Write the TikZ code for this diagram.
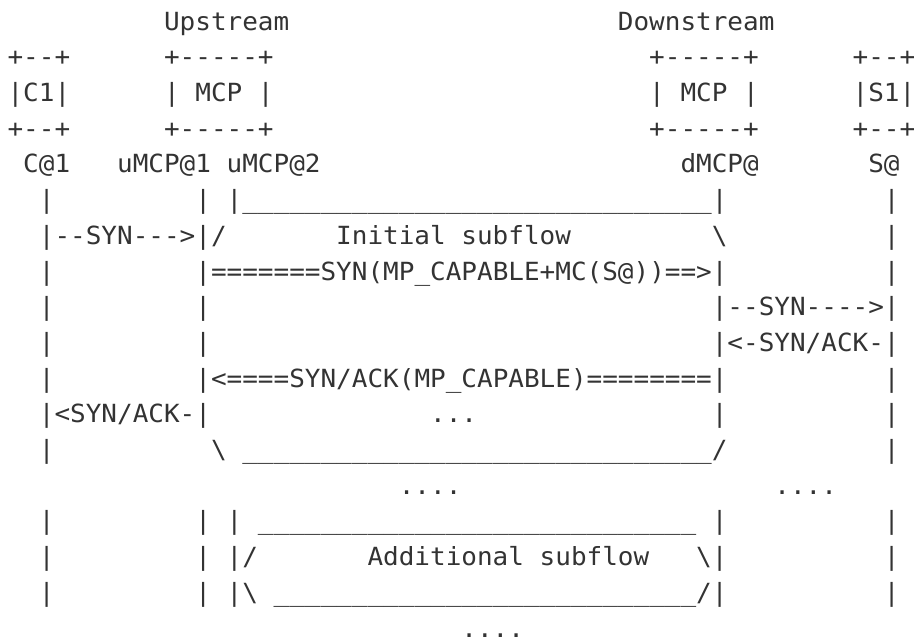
\documentclass[tikz,border=0pt]{standalone}
\usepackage{fontspec}
\setmonofont[FakeStretch=1.04]{DejaVu Sans Mono}

\definecolor{ink}{gray}{0.2}
\tikzset{
  asc/.style={anchor=base west, inner sep=0pt, outer sep=0pt, text=ink,
    font=\ttfamily\fontsize{25}{30}\selectfont},
}
% a run of underscores
\newcommand\unders[1]{\foreach \n in {1,...,#1}{\_}}

\begin{document}
\begin{tikzpicture}[x=15.65pt,y=-35.7pt]
\useasboundingbox (0,0) rectangle (58.403,17.899);
\begin{scope}[shift={(0.484,-0.157)}]
% (column, row) grid

% Text Node
\node[asc] (up) at (10,1) {Upstream};
\node[asc] (down) at (39,1) {Downstream};

% boxes
\node[asc] (c1top) at (0,2) {+--+};
\node[asc] (c1) at (0,3) {|C1|};
\node[asc] (c1bot) at (0,4) {+--+};
\node[asc] (umcptop) at (10,2) {+-----+};
\node[asc] (umcp) at (10,3) {| MCP |};
\node[asc] (umcpbot) at (10,4) {+-----+};
\node[asc] (dmcptop) at (41,2) {+-----+};
\node[asc] (dmcp) at (41,3) {| MCP |};
\node[asc] (dmcpbot) at (41,4) {+-----+};
\node[asc] (s1top) at (54,2) {+--+};
\node[asc] (s1) at (54,3) {|S1|};
\node[asc] (s1bot) at (54,4) {+--+};

% addresses
\node[asc] (ca) at (1,5) {C@1};
\node[asc] (ua1) at (7,5) {uMCP@1};
\node[asc] (ua2) at (14,5) {uMCP@2};
\node[asc] (da) at (43,5) {dMCP@};
\node[asc] (sa) at (55,5) {S@};

% lifelines
\foreach \r in {6,8,9,10,11,13,15,16,17}
  \node[asc] (cl\r) at (2,\r) {|};
\foreach \r in {6,7,8,11,12,13,15,16,17}
  \node[asc] (sl\r) at (56,\r) {|};
\foreach \r in {9,10}
  \node[asc] (ul\r) at (12,\r) {|};
\node[asc] (dl12) at (45,12) {|};

% initial subflow
\node[asc] (sub1top) at (12,6) {| |\unders{30}|};
\node[asc] (sync) at (2,7) {|--SYN--->|/};
\node[asc] (sub1) at (21,7) {Initial subflow};
\node[asc] (sub1r) at (45,7) {\textbackslash};
\node[asc] (synmp) at (12,8) {|=======SYN(MP\_CAPABLE+MC(S@))==>|};
\node[asc] (syns) at (45,9) {|--SYN---->|};
\node[asc] (acks) at (45,10) {|<-SYN/ACK-|};
\node[asc] (ackmp) at (12,11) {|<====SYN/ACK(MP\_CAPABLE)========|};
\node[asc] (ackc) at (2,12) {|<SYN/ACK-|};
\node[asc] (dots1) at (27,12) {...};
\node[asc] (sub1bot) at (13,13) {\textbackslash{} \unders{30}/};

\node[asc] (dots2) at (25,14) {....};
\node[asc] (dots3) at (49,14) {....};

% additional subflow
\node[asc] (sub2top) at (12,15) {| | \unders{28} |};
\node[asc] (sub2l) at (12,16) {| |/};
\node[asc] (sub2) at (23,16) {Additional subflow};
\node[asc] (sub2r) at (44,16) {\textbackslash|};
\node[asc] (sub2bot) at (12,17) {| |\textbackslash{} \unders{27}/|};

\node[asc] (dots4) at (29,18) {....};
\end{scope}
\end{tikzpicture}
\end{document}
